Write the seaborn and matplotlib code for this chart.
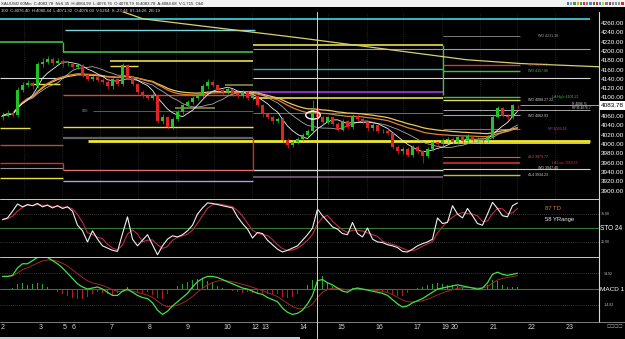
import numpy as np
import pandas as pd
import matplotlib
matplotlib.use("Agg")
import matplotlib.pyplot as plt
import seaborn as sns
from matplotlib.patches import Ellipse, Rectangle

# ---------------- data ----------------
closes = [4062, 4068, 4064, 4118, 4128, 4132, 4126, 4172, 4178, 4184,
          4176, 4180, 4172, 4174, 4166, 4170, 4150, 4140, 4146, 4138,
          4135, 4125, 4140, 4130, 4170, 4145, 4130, 4112, 4104, 4100,
          4106, 4050, 4060, 4038, 4055, 4070, 4085, 4092, 4100, 4104,
          4125, 4135, 4128, 4118, 4112, 4120, 4108, 4104, 4112, 4100,
          4104, 4085, 4065, 4060, 4050, 4055, 4010, 3998, 4005, 4012,
          4020, 4030, 4075, 4060, 4048, 4058, 4045, 4032, 4050, 4038,
          4062, 4055, 4048, 4035, 4042, 4028, 4030, 4024, 3995, 3985,
          3990, 3978, 3995, 3985, 3975, 3990, 4005, 4000, 4010, 4012,
          4005, 4015, 4008, 4018, 4010, 4012, 4010, 4015, 4060, 4078,
          4062, 4058, 4085, 4083.78]
first_open = 4058
highs = [4070, 4074, 4072, 4124, 4134, 4138, 4136, 4178, 4186, 4190,
         4188, 4186, 4184, 4180, 4178, 4176, 4172, 4154, 4150, 4148,
         4142, 4138, 4144, 4142, 4176, 4172, 4148, 4132, 4116, 4108,
         4110, 4108, 4066, 4062, 4060, 4074, 4088, 4096, 4104, 4110,
         4130, 4140, 4138, 4130, 4122, 4124, 4122, 4112, 4116, 4114,
         4108, 4106, 4088, 4068, 4064, 4060, 4058, 4014, 4010, 4016,
         4024, 4034, 4095, 4078, 4064, 4062, 4060, 4048, 4054, 4052,
         4066, 4066, 4058, 4050, 4046, 4044, 4034, 4034, 4026, 3998,
         3994, 3994, 3998, 3998, 3988, 3994, 4010, 4008, 4014, 4016,
         4015, 4018, 4018, 4022, 4020, 4016, 4015, 4020, 4064, 4082,
         4080, 4066, 4088, 4084.99]
lows = [4052, 4058, 4060, 4060, 4112, 4124, 4120, 4122, 4166, 4174,
        4170, 4172, 4166, 4168, 4162, 4162, 4146, 4136, 4136, 4134,
        4130, 4120, 4120, 4126, 4126, 4140, 4126, 4108, 4100, 4096,
        4096, 4046, 4044, 4034, 4034, 4050, 4066, 4082, 4088, 4096,
        4100, 4120, 4124, 4114, 4106, 4108, 4104, 4100, 4100, 4096,
        4096, 4080, 4060, 4054, 4044, 4046, 4004, 3992, 3994, 4000,
        4008, 4016, 4026, 4054, 4044, 4044, 4040, 4028, 4028, 4034,
        4034, 4050, 4044, 4030, 4030, 4024, 4024, 4020, 3990, 3980,
        3980, 3972, 3974, 3980, 3961, 3970, 3986, 3996, 3996, 4006,
        4000, 4002, 4004, 4004, 4006, 4006, 4004, 4006, 4012, 4056,
        4058, 4052, 4054, 4076.76]

stoch_k = [65, 68, 80, 93, 88, 92, 90, 94, 88, 91,
           86, 90, 85, 88, 80, 55, 45, 25, 45, 30,
           18, 14, 10, 8, 40, 70, 30, 18, 28, 38,
           20, 2, 18, 30, 36, 34, 38, 45, 55, 75,
           86, 95, 94, 92, 90, 88, 86, 70, 58, 48,
           32, 42, 40, 28, 20, 12, 7, 10, 14, 18,
           28, 38, 50, 84, 72, 62, 52, 48, 40, 38,
           60, 40, 34, 50, 30, 25, 24, 20, 18, 15,
           8, 7, 12, 18, 22, 25, 30, 68, 58, 60,
           90, 75, 68, 85, 72, 58, 55, 75, 96, 85,
           72, 70, 90, 95]

macd_line = [12, 12, 13, 20, 24, 24, 27, 30, 31, 30,
             27, 24, 20, 15, 10, 5, 2, 0, 1, 2,
             0, -3, -6, -6, -2, 0, -3, -6, -8, -9,
             -13, -20, -24, -21, -16, -12, -8, -4, 2, 7,
             10, 12, 12, 11, 9, 7, 5, 3, 1, 0,
             -2, -4, -5, -8, -10, -12, -18, -22, -24, -23,
             -20, -14, -6, 8, 9, 6, 4, 1, -2, -3,
             0, 1, 0, -1, -2, -3, -4, -6, -10, -14,
             -17, -16, -13, -11, -9, -6, -3, 0, 1, 2,
             3, 4, 3, 2, 1, 0, 1, 6, 14, 16,
             14, 13, 14, 15]

# horizontal level lines: start bar, end bar, price
lvl_x0 = [-0.5, 12.5, 88.1, -0.5, 12.1, 50.1, 50.1, 21.5, 21.5, 88.1,
          50.1, 88.1, -0.5, 50.1, 5.5, 44.5, 50.1, 12.1, 88.1, 50.1,
          88.1, 34.5, 18.1, 50.1, 88.1, 88.1, 12.1, -0.5, 88.1, 12.1,
          17.1, 88.1, -0.5, 88.1, -0.5, 88.1, -0.5, 12.1, 50.1, 88.1,
          88.1, 50.1, -0.5, 12.1]
lvl_x1 = [117.5, 50.5, 103.5, 12.1, 50.1, 88.1, 117.5, 50.1, 27.1, 103.5,
          88.1, 103.5, 12.1, 117.5, 11.5, 50.1, 88.1, 50.1, 103.5, 88.1,
          103.5, 42.5, 50.1, 88.1, 117.5, 103.5, 50.1, 5.5, 103.5, 50.1,
          117.5, 117.5, 12.1, 103.5, 12.1, 103.5, 12.1, 50.1, 88.1, 117.5,
          103.5, 88.1, 12.1, 50.1]
lvl_price = [4270, 4246, 4234, 4220, 4199, 4214, 4205, 4180, 4169, 4169.72,
             4162, 4157.06, 4143, 4143, 4130, 4128, 4113, 4106, 4101.21, 4100,
             4096, 4078, 4072, 4068, 4074, 4062.93, 4038, 4035, 4033.16, 4014,
             4008, 4003, 3999, 3973.77, 3959.55, 3959.55, 3949, 3945, 3945, 3947.40,
             3934.23, 3930, 3928, 3922]
lvl_color = ['#39b8c0', '#7fd8e0', '#909090', '#40c040', '#40c040', '#e8e040', '#a0a0a0',
             '#e8e040', '#e8e040', '#c04040', '#30b0b0', '#40c040', '#d8d8d8', '#d8d8d8',
             '#e8e040', '#8a8a50', '#9030c0', '#d05030', '#40c040', '#e8e040', '#e8e060',
             '#8a8a50', '#808080', '#808080', '#c0c0c0', '#40c8d8', '#e8e040', '#e8e040',
             '#c040c0', '#606060', '#f0e830', '#e0d020', '#b05030', '#e06030', '#d03030',
             '#d03030', '#909090', '#e07070', '#d0d0d0', '#d0d0d0', '#c0c040', '#806080',
             '#e8e040', '#a0a0f0']
lvl_lw = [1.4, 1.0, 0.6, 1.2, 1.2, 1.2, 0.8, 1.2, 1.0, 1.0, 1.0, 1.0, 0.8, 0.8,
          1.0, 1.2, 1.4, 1.0, 1.0, 1.2, 1.0, 1.2, 0.5, 0.6, 0.6, 0.8, 1.0, 1.0,
          0.8, 1.6, 2.0, 1.4, 1.0, 0.8, 1.0, 1.2, 0.8, 1.0, 1.0, 0.8, 1.0, 1.2,
          1.0, 1.0]

# long-term moving average (higher timeframe)
trend_x = [22.5, 28.1, 59.5, 92.9, 103.5, 119.3]
trend_p = [4291, 4270, 4229, 4182, 4174, 4167]

price_ticks = list(range(3900, 4261, 20))
last_price = 4083.78

day_labels = ["2", "3", "5", "6", "7", "8", "9", "10", "12", "13", "14",
              "15", "16", "17", "19", "20", "21", "22", "23"]
day_pos = [0.1, 7.6, 12.5, 14.2, 21.8, 29.4, 37.0, 45.0, 50.5, 52.5, 60.2,
           67.8, 75.4, 83.0, 88.5, 90.5, 98.2, 105.8, 113.4]

level_texts = [("WO 4231.38", 4234), ("WO 4169.72", 4171), ("WO 4157.06", 4157),
               ("LA High 4101.21", 4103), ("WO 4088.27 22", 4096), ("WO 4062.93", 4062),
               ("VP 4033.16", 4033), ("4L2 3973.77", 3974), ("LA Low 3959.55", 3960),
               ("WO 3947.40", 3950), ("4L4 3934.23", 3934)]
level_text_x = [107, 105, 105, 110, 105, 105, 109, 105, 110, 107, 105]
level_text_col = ['#a0a0a0', '#d04040', '#40c040', '#40c040', '#d0d0d0', '#d0d0d0',
                  '#c040c0', '#e06040', '#d03030', '#d0d0d0', '#d0d0d0']

# ---------------- derived ----------------
x = np.arange(len(closes))
c = np.array(closes, dtype=float)
o = np.concatenate([[first_open], c[:-1]])
hi = np.array(highs, dtype=float)
lo = np.array(lows, dtype=float)
cs = pd.Series(c)
ma_fast = cs.rolling(6, min_periods=1).mean()
ma_mid = cs.rolling(12, min_periods=1).mean()
ema_a = cs.ewm(span=30).mean()
ema_b = cs.ewm(span=40).mean()
k = pd.Series(stoch_k, dtype=float)
d = k.rolling(3, min_periods=1).mean()
m = pd.Series(macd_line, dtype=float)
sig = m.ewm(span=6).mean()
hist = m - sig

# ---------------- figure ----------------
sns.set_style("dark")
plt.rcParams['font.family'] = ['Liberation Sans', 'DejaVu Sans']

W, H = 625, 339
fig = plt.figure(figsize=(6.25, 3.39), dpi=100, facecolor='black')


def ax_px(x0, y0, x1, y1):
    a = fig.add_axes([x0 / W, 1 - y1 / H, (x1 - x0) / W, (y1 - y0) / H])
    a.set_facecolor('black')
    for s in a.spines.values():
        s.set_visible(False)
    a.set_xticks([])
    a.set_yticks([])
    a.set_xlim(-0.5, 119.3)
    a.grid(False)
    return a


def py(p):
    return 23.5 + (4260 - p) * 0.4653


ax = ax_px(0, 12, 599, 199)
ax.set_ylim(3882.8, 4284.7)
ax_s = ax_px(0, 199, 599, 257)
ax_s.set_ylim(-2, 102)
ax_m = ax_px(0, 257, 599, 322)
ax_m.set_ylim(-31.2, 30.4)

# faint vertical grid
for gx in [24, 62, 100, 138, 176, 214, 252, 290, 328, 367, 403, 442, 480, 517, 555]:
    ax.axvline(gx / 5 - 0.5, color='#3a3a3a', lw=0.5, ls=(0, (1, 2)), zorder=0)

# level lines
for x0, x1, p, col, lw in zip(lvl_x0, lvl_x1, lvl_price, lvl_color, lvl_lw):
    ax.hlines(p, x0, x1, colors=col, lw=lw, zorder=1)
ax.vlines(12.1, 4199, 4220, colors='#40c040', lw=1.0, zorder=1)
ax.vlines(12.1, 3945, 3959.55, colors='#d03030', lw=1.0, zorder=1)
ax.vlines(50.1, 3945, 4014, colors='#c03030', lw=1.0, zorder=1)
ax.vlines(88.1, 4106, 4214, colors='#40c040', lw=1.0, zorder=1)
ax.hlines(last_price, 103.5, 119.3, colors='#e0e0e0', lw=0.5, zorder=1)
ax.text(17.2, 4072, "500", color='#a0a0a0', fontsize=2.8, va='center', ha='right')

for (t, p), tx, col in zip(level_texts, level_text_x, level_text_col):
    ax.text(tx, p, t, color=col, fontsize=2.6, va='center', ha='left')
ax.text(114, 4086.5, "R 4086 %", color='#d0d0d0', fontsize=2.4, va='center')
ax.text(114, 4078.5, "RPM 4076.7", color='#d0d0d0', fontsize=2.4, va='center')

# long MA
sns.lineplot(x=trend_x, y=trend_p, ax=ax, color='#d8d070', lw=0.9, legend=False)

# moving averages
sns.lineplot(x=x, y=ema_b.values, ax=ax, color='#e8c860', lw=0.9, legend=False)
sns.lineplot(x=x, y=ema_a.values, ax=ax, color='#e08030', lw=0.9, legend=False)
sns.lineplot(x=x, y=ma_mid.values, ax=ax, color='#a8a8a8', lw=0.6, legend=False)
sns.lineplot(x=x, y=ma_fast.values, ax=ax, color='#f0f0f0', lw=0.6, legend=False)

# candles
up = c >= o
cols = np.where(up, '#22c322', '#e02424')
ax.vlines(x, lo, hi, colors=cols, lw=0.5, zorder=3)
ax.bar(x, np.maximum(np.abs(c - o), 0.8), bottom=np.minimum(c, o), width=0.5,
       color=cols, zorder=4, linewidth=0)

ax.add_patch(Ellipse((62.1, 4063), 2.9, 17, fill=False, ec='white', lw=1.0, zorder=5))

# stochastic
ax_s.axhline(75, color='#707070', lw=0.5, ls=(0, (1, 2)))
ax_s.axhline(25, color='#707070', lw=0.5, ls=(0, (1, 2)))
ax_s.axhline(50, color='#2f7a2f', lw=0.8)
sns.lineplot(x=x, y=d.values, ax=ax_s, color='#c02848', lw=0.8, legend=False)
sns.lineplot(x=x, y=k.values, ax=ax_s, color='#f0f0f0', lw=0.8, legend=False)

# MACD
ax_m.axhline(14.92, color='#707070', lw=0.5, ls=(0, (1, 2)))
ax_m.axhline(-14.92, color='#707070', lw=0.5, ls=(0, (1, 2)))
ax_m.axhline(0, color='#2f7a2f', lw=0.8)
hcols = np.where(hist.values >= 0, '#2fa02f', '#b02020')
ax_m.bar(x, hist.values, width=0.3, color=hcols, linewidth=0)
sns.lineplot(x=x, y=sig.values, ax=ax_m, color='#a02828', lw=0.7, legend=False)
sns.lineplot(x=x, y=m.values, ax=ax_m, color='#44e044', lw=0.9, legend=False)

for a in (ax, ax_s, ax_m):
    a.set_xlabel('')
    a.set_ylabel('')

# ---------------- overlay (pixel coords) ----------------
ov = fig.add_axes([0, 0, 1, 1], facecolor='none')
ov.set_xlim(0, W)
ov.set_ylim(H, 0)
ov.axis('off')

ov.add_patch(Rectangle((0, 0), W, 7, color='#f2f2f2', lw=0))
ov.text(1, 3.5, "XAUUSD 60Min  C:4083.78  Nt:6.35  H:4084.99  L:4076.76  O:4078.79  B:4083.78  A:4084.68  V:1,715  Ok0",
        fontsize=3.1, color='#202020', va='center')
ov.text(1, 10.5, "100  C:4076.40  H:4080.44  L:4071.32  O:4076.00  V:5264  S:-23:44  07-14:26  2E:19",
        fontsize=3.1, color='#e0e0e0', va='center')
for i, col in enumerate(['#3a7ad0', '#a0a0a0', '#40a040', '#d0a030', '#40a040', '#d03030',
                         '#808080', '#6080c0', '#606060', '#d03030', '#40a0d0', '#e0d020',
                         '#808080', '#a04040', '#6090c0', '#909090', '#909090', '#d03030']):
    ov.add_patch(Rectangle((567 + i * 3.2, 2), 2.2, 2.5, color=col, lw=0))

# separators
ov.plot([599, 599], [12, 322], color='#d8d8d8', lw=0.8)
for yy in (199, 257):
    ov.plot([0, 599], [yy, yy], color='#c8c8c8', lw=0.7)
ov.plot([0, 625], [322, 322], color='#909090', lw=0.6)
ov.plot([317, 317], [12, 338], color='#d0d0d0', lw=0.7)

# right price axis
for p in price_ticks:
    if abs(py(p) - py(last_price)) < 6:
        continue
    ov.text(600.5, py(p), f"{p:.2f}", fontsize=4.6, color='white', va='center', ha='left')
ov.add_patch(Rectangle((599.5, py(last_price) - 4.5), 25.5, 9, color='white', lw=0))
ov.text(600.5, py(last_price), f"{last_price:.2f}", fontsize=4.6, color='black', va='center', ha='left')

# stochastic annotations
ov.text(545, 208, "87 TD", fontsize=4.2, color='#e07840', va='center')
ov.text(545, 220, "58 YRange", fontsize=4.2, color='#e8e8e8', va='center')
ov.text(601, 214, "75.00", fontsize=2.6, color='#c0c0c0', va='center')
ov.text(601, 242, "25.00", fontsize=2.6, color='#c0c0c0', va='center')
ov.text(600.5, 228, "STO 24", fontsize=4.7, color='white', va='center')
ov.text(604, 274, "14.92", fontsize=2.6, color='#c0c0c0', va='center')
ov.text(604, 305, "-14.92", fontsize=2.6, color='#c0c0c0', va='center')
ov.text(600.5, 289.5, "MACD 1", fontsize=4.6, color='white', va='center')
ov.text(607, 326, "□□□□", fontsize=3.2, color='#c0c0c0', va='center', family='DejaVu Sans')

# date labels
for lab, pos in zip(day_labels, day_pos):
    ov.text((pos + 0.5) * 5, 327.5, lab, fontsize=5, color='#d8d8d8', va='center', ha='center')

ov.add_patch(Rectangle((0, 336.5), 300, 2.5, color='#c8ccd4', lw=0))

fig.savefig("out.png", dpi=100, facecolor='black')
